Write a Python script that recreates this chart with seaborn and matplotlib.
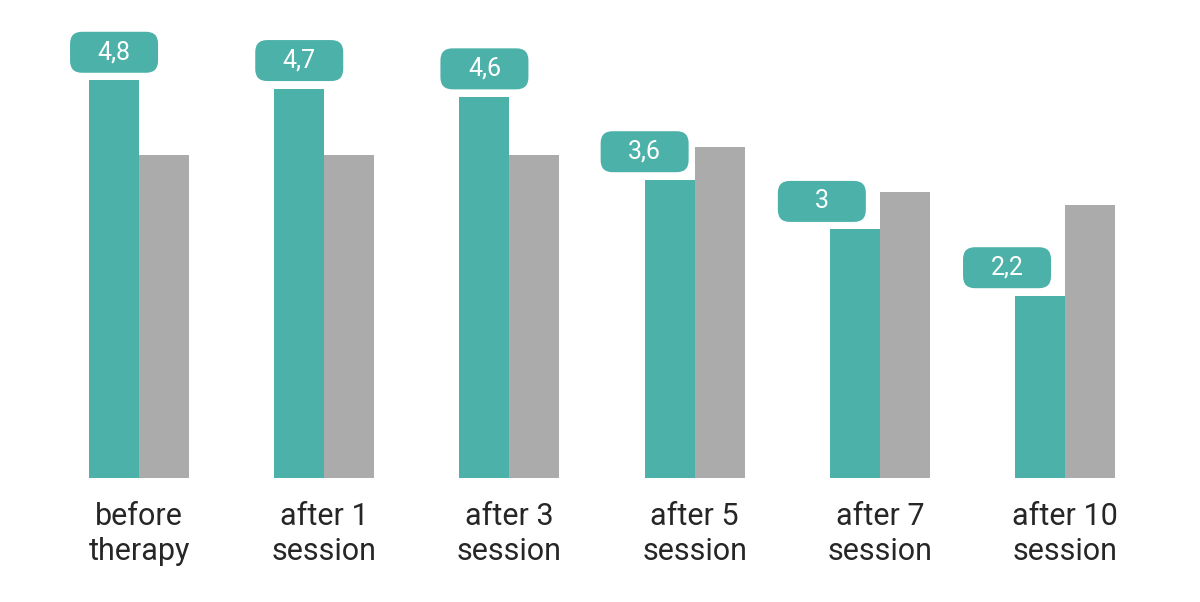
import pandas as pd
import seaborn as sns
import matplotlib.pyplot as plt
from matplotlib.patches import FancyBboxPatch
from matplotlib.transforms import ScaledTranslation

# === DATA ===
stages = ["before\ntherapy", "after 1\nsession", "after 3\nsession",
          "after 5\nsession", "after 7\nsession", "after 10\nsession"]
main_values = [4.8, 4.7, 4.6, 3.6, 3.0, 2.2]
other_values = [3.9, 3.9, 3.9, 4.0, 3.45, 3.3]
value_labels = ["4,8", "4,7", "4,6", "3,6", "3", "2,2"]

# horizontal shift of the value badges (pixels), where the grey bar is taller
badge_shift = [0, 0, 0, -25, -33, -33]

teal = "#4cb2a9"
grey = "#ababab"

df = pd.DataFrame({
    "stage": stages * 2,
    "value": main_values + other_values,
    "group": ["main"] * len(stages) + ["other"] * len(stages),
})

sns.set_theme(style="white")
plt.rcParams["font.family"] = ["Roboto", "DejaVu Sans"]

fig = plt.figure(figsize=(12, 6.02), dpi=100, facecolor="white")
ax = fig.add_axes([0.0387, 0.206, 0.926, 0.757])

sns.barplot(data=df, x="stage", y="value", hue="group",
            palette=[teal, grey], width=0.54, gap=0,
            saturation=1, legend=False, linewidth=0, ax=ax)

ax.set_ylim(0, 5.5)
ax.set_xlim(-0.5, len(stages) - 0.5)
ax.set_xlabel("")
ax.set_ylabel("")
ax.set_yticks([])
sns.despine(ax=ax, left=True, bottom=True)
ax.tick_params(axis="x", length=0, pad=17, labelsize=22, labelcolor="#262626")
for t in ax.get_xticklabels():
    t.set_linespacing(1.26)

# value badges above the teal bars
for bar, lab, shift in zip(ax.containers[0], value_labels, badge_shift):
    cx = bar.get_x() + bar.get_width() / 2
    top = bar.get_height()
    trans = fig.dpi_scale_trans + ScaledTranslation(cx, top, ax.transData)
    x0 = (shift - 44) / 100
    y0 = (28 - 20.5) / 100
    box = FancyBboxPatch((x0, y0), 0.88, 0.41,
                         boxstyle="round,pad=0,rounding_size=0.12",
                         transform=trans, facecolor=teal, edgecolor="none",
                         clip_on=False)
    ax.add_patch(box)
    ax.text(x0 + 0.44, y0 + 0.205, lab, transform=trans, ha="center",
            va="center", color="white", fontsize=18)

plt.savefig("out.png", dpi=100, facecolor="white")
